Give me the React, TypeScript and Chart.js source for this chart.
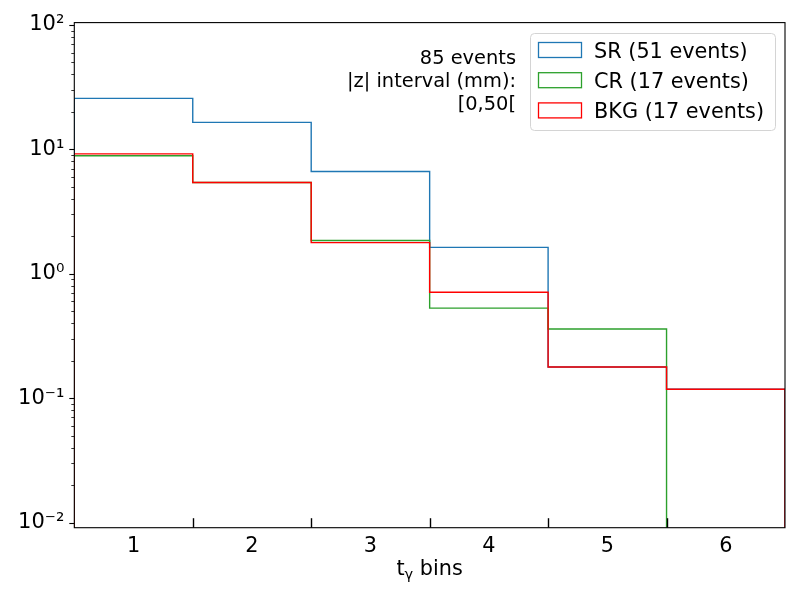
import React, { useEffect, useRef } from 'react';
import { Chart, registerables } from 'chart.js';

Chart.register(...registerables);

// ---- data ----
const BIN_EDGES = [0.5, 1.5, 2.5, 3.5, 4.5, 5.5, 6.5];
const BIN_LABELS = [1, 2, 3, 4, 5, 6];
const SR_VALUES = [25.7, 16.5, 6.65, 1.63, 0.178, 0.118];
const CR_VALUES = [8.9, 5.42, 1.85, 0.53, 0.36, 0];
const BKG_VALUES = [9.2, 5.42, 1.78, 0.71, 0.178, 0.118];
const SERIES_LABELS = ['SR (51 events)', 'CR (17 events)', 'BKG (17 events)'];
const SERIES_COLORS = ['#1f77b4', '#2ca02c', '#ff0000'];
const Y_MAJOR_TICKS = [0.01, 0.1, 1, 10, 100];
const Y_TICK_LABELS = ['10⁻²', '10⁻¹', '10⁰', '10¹', '10²'];
const ANNOTATION_LINES = ['85 events', '|z| interval (mm):', '[0,50['];
const X_TITLE_MAIN = 't';
const X_TITLE_SUB = 'γ';
const X_TITLE_REST = ' bins';
const Y_MIN = 0.0091;
const Y_MAX = 104.5;

const FONT = 'DejaVu Sans';

function stepPoints(values: number[]) {
  const floor = Y_MIN / 1000;
  const pts: { x: number; y: number }[] = [{ x: BIN_EDGES[0], y: floor }];
  values.forEach((v, i) => {
    const y = v > 0 ? v : floor;
    pts.push({ x: BIN_EDGES[i], y });
    pts.push({ x: BIN_EDGES[i + 1], y });
  });
  pts.push({ x: BIN_EDGES[BIN_EDGES.length - 1], y: floor });
  return pts;
}

const decorPlugin = {
  id: 'decor',
  afterDraw(chart: any) {
    const ctx = chart.ctx as CanvasRenderingContext2D;
    const { left, right, top, bottom } = chart.chartArea;
    const xs = chart.scales.x;
    const ys = chart.scales.y;
    ctx.save();
    ctx.strokeStyle = '#000';
    // y ticks (outward)
    ctx.lineWidth = 1.1;
    Y_MAJOR_TICKS.forEach((v) => {
      const p = Math.round(ys.getPixelForValue(v)) + 0.5;
      ctx.beginPath();
      ctx.moveTo(left - 5, p);
      ctx.lineTo(left, p);
      ctx.stroke();
    });
    ctx.lineWidth = 0.8;
    for (let d = -3; d <= 2; d++) {
      for (let m = 2; m <= 9; m++) {
        const v = m * Math.pow(10, d);
        if (v < Y_MIN || v > Y_MAX) continue;
        const p = Math.round(ys.getPixelForValue(v)) + 0.5;
        ctx.beginPath();
        ctx.moveTo(left - 3, p);
        ctx.lineTo(left, p);
        ctx.stroke();
      }
    }
    // x ticks at inner bin edges (inward)
    ctx.lineWidth = 1.4;
    BIN_EDGES.slice(1, -1).forEach((e) => {
      const p = Math.round(xs.getPixelForValue(e)) + 0.5;
      ctx.beginPath();
      ctx.moveTo(p, bottom);
      ctx.lineTo(p, bottom - 9.5);
      ctx.stroke();
    });
    // frame
    ctx.lineWidth = 1.1;
    ctx.strokeRect(left, top, right - left, bottom - top);

    // annotation
    ctx.fillStyle = '#000';
    ctx.font = `19.4px "${FONT}"`;
    ctx.textAlign = 'right';
    ctx.textBaseline = 'alphabetic';
    ANNOTATION_LINES.forEach((t, i) => {
      ctx.fillText(t, 516, 64 + i * 23.2);
    });

    // legend
    const lx = 530.5, ly = 33.5, lw = 245, lh = 97, r = 4;
    ctx.beginPath();
    ctx.moveTo(lx + r, ly);
    ctx.lineTo(lx + lw - r, ly);
    ctx.quadraticCurveTo(lx + lw, ly, lx + lw, ly + r);
    ctx.lineTo(lx + lw, ly + lh - r);
    ctx.quadraticCurveTo(lx + lw, ly + lh, lx + lw - r, ly + lh);
    ctx.lineTo(lx + r, ly + lh);
    ctx.quadraticCurveTo(lx, ly + lh, lx, ly + lh - r);
    ctx.lineTo(lx, ly + r);
    ctx.quadraticCurveTo(lx, ly, lx + r, ly);
    ctx.closePath();
    ctx.fillStyle = 'rgba(255,255,255,0.8)';
    ctx.fill();
    ctx.strokeStyle = '#d4d4d4';
    ctx.lineWidth = 1;
    ctx.stroke();
    ctx.font = `20.8px "${FONT}"`;
    ctx.textAlign = 'left';
    chart.data.datasets.forEach((ds: any, i: number) => {
      const cy = 50 + i * 30.2;
      ctx.strokeStyle = ds.borderColor;
      ctx.lineWidth = 1.3;
      ctx.strokeRect(538.5, cy - 7.5, 43, 15);
      ctx.fillStyle = '#000';
      ctx.fillText(ds.label, 594, cy + 7.6);
    });

    // x title with subscript
    const big = `20.8px "${FONT}"`;
    const small = `14.6px "${FONT}"`;
    ctx.font = big;
    const w1 = ctx.measureText(X_TITLE_MAIN).width;
    const w3 = ctx.measureText(X_TITLE_REST).width;
    ctx.font = small;
    const w2 = ctx.measureText(X_TITLE_SUB).width;
    const total = w1 + w2 + w3;
    const cx = (left + right) / 2;
    let x = cx - total / 2;
    const base = 575;
    ctx.fillStyle = '#000';
    ctx.font = big;
    ctx.fillText(X_TITLE_MAIN, x, base);
    x += w1;
    ctx.font = small;
    ctx.fillText(X_TITLE_SUB, x, base + 3.5);
    x += w2;
    ctx.font = big;
    ctx.fillText(X_TITLE_REST, x, base);
    ctx.restore();
  },
};

export default function App() {
  const ref = useRef<HTMLCanvasElement>(null);
  useEffect(() => {
    document.body.style.margin = '0';
    const canvas = ref.current!;
    const seriesValues = [SR_VALUES, CR_VALUES, BKG_VALUES];
    const chart = new Chart(canvas, {
      type: 'line',
      data: {
        datasets: seriesValues.map((vals, i) => ({
          label: SERIES_LABELS[i],
          data: stepPoints(vals),
          borderColor: SERIES_COLORS[i],
          backgroundColor: SERIES_COLORS[i],
          borderWidth: 1.4,
          pointRadius: 0,
          fill: false,
          tension: 0,
          clip: 0,
          // later series drawn on top (matplotlib order)
          order: seriesValues.length - i,
        })),
      },
      options: {
        animation: false,
        responsive: false,
        events: [],
        layout: { padding: { top: 22.3, right: 15, left: 0, bottom: 0 } },
        plugins: {
          legend: { display: false },
          tooltip: { enabled: false },
        },
        scales: {
          x: {
            type: 'linear',
            min: BIN_EDGES[0],
            max: BIN_EDGES[BIN_EDGES.length - 1],
            grid: { display: false, drawTicks: false },
            border: { display: false },
            afterBuildTicks: (scale: any) => {
              scale.ticks = BIN_LABELS.map((v) => ({ value: v }));
            },
            afterFit: (scale: any) => {
              scale.height = 72.3;
            },
            ticks: {
              color: '#000',
              font: { family: FONT, size: 20.8 },
              padding: 6,
              maxRotation: 0,
              autoSkip: false,
              callback: (v: any) => String(v),
            },
          },
          y: {
            type: 'logarithmic',
            min: Y_MIN,
            max: Y_MAX,
            bounds: 'data',
            grid: { display: false, drawTicks: false },
            border: { display: false },
            afterBuildTicks: (scale: any) => {
              scale.ticks = Y_MAJOR_TICKS.map((v) => ({ value: v }));
            },
            afterFit: (scale: any) => {
              scale.width = 74.3;
            },
            ticks: {
              color: '#000',
              font: { family: FONT, size: 21 },
              padding: 10,
              autoSkip: false,
              callback: (v: any) => {
                const idx = Y_MAJOR_TICKS.findIndex((t) => Math.abs(t - v) / t < 1e-6);
                return idx >= 0 ? Y_TICK_LABELS[idx] : '';
              },
            },
          },
        },
      },
      plugins: [decorPlugin],
    } as any);
    return () => chart.destroy();
  }, []);
  return (
    <div style={{ width: 800, height: 600, background: '#fff' }}>
      <canvas ref={ref} width={800} height={600} style={{ display: 'block', width: 800, height: 600 }} />
    </div>
  );
}
